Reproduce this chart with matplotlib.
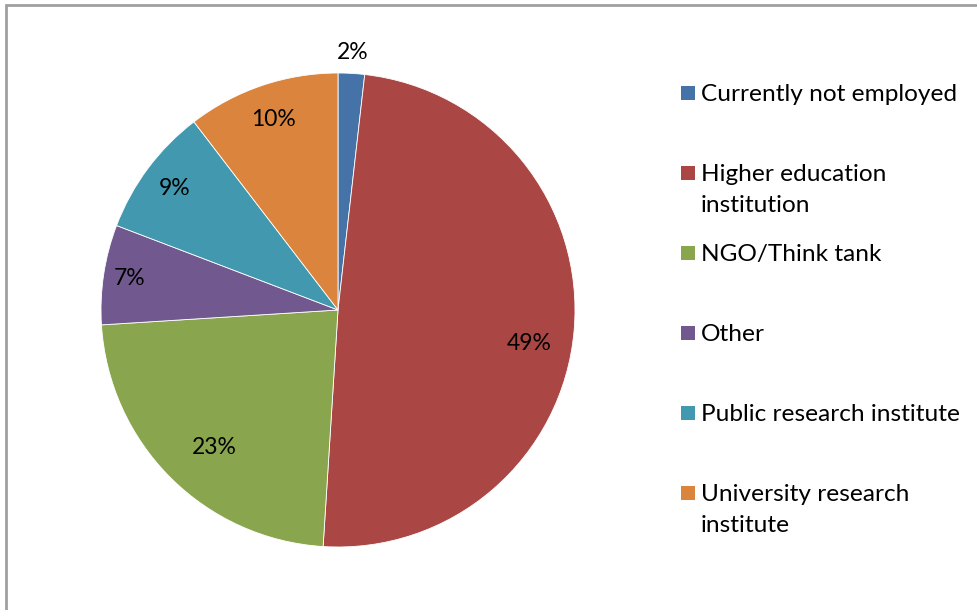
import matplotlib.pyplot as plt
from matplotlib.patches import Rectangle
import numpy as np

# Данные
categories = ['Currently not employed', 'Higher education\ninstitution', 'NGO/Think tank',
              'Other', 'Public research institute', 'University research\ninstitute']
shares = [1.8, 49.2, 23.0, 6.8, 8.8, 10.4]
colors = ['#4572A7', '#AA4643', '#89A54E', '#71588F', '#4198AF', '#DB843D']

plt.rcParams['font.family'] = ['Lato', 'DejaVu Sans']

fig = plt.figure(figsize=(9.77, 6.10), dpi=100)
W, H = 977, 610

# рамка диаграммы
fig.patches.append(Rectangle((6 / W, -0.1), 1.2, 1 - 5 / H + 0.1, transform=fig.transFigure,
                             fill=False, edgecolor='#A0A0A0', linewidth=2))

ax = fig.add_axes([101 / W, 63 / H, 474 / W, 474 / H])
wedges, _ = ax.pie(shares, colors=colors, startangle=90, counterclock=False,
                   wedgeprops=dict(linewidth=0.6, edgecolor='white'))
ax.set_xlim(-1, 1)
ax.set_ylim(-1, 1)
ax.set_aspect('equal')

# подписи процентов (радиус и сдвиг угла — как "best fit" в Excel)
label_r = [1.09, 0.82, 0.78, 0.89, 0.86, 0.85]
label_shift = [0, -5, 3, 0, 0, 0]
for w, s, r, d in zip(wedges, shares, label_r, label_shift):
    ang = np.deg2rad((w.theta1 + w.theta2) / 2 + d)
    ax.text(r * np.cos(ang), r * np.sin(ang), f'{s:.0f}%', ha='center', va='center',
            fontsize=16.5, color='black')

# легенда
y0 = 93
for i, (name, c) in enumerate(zip(categories, colors)):
    y = y0 + 80 * i
    fig.patches.append(Rectangle((681 / W, 1 - (y + 7) / H), 14 / W, 14 / H,
                                 transform=fig.transFigure, facecolor=c, edgecolor='none'))
    fig.text(701 / W, 1 - (y - 9) / H, name, ha='left', va='top', fontsize=17.6,
             linespacing=1.58, transform=fig.transFigure)

fig.savefig('out.png', dpi=100)
